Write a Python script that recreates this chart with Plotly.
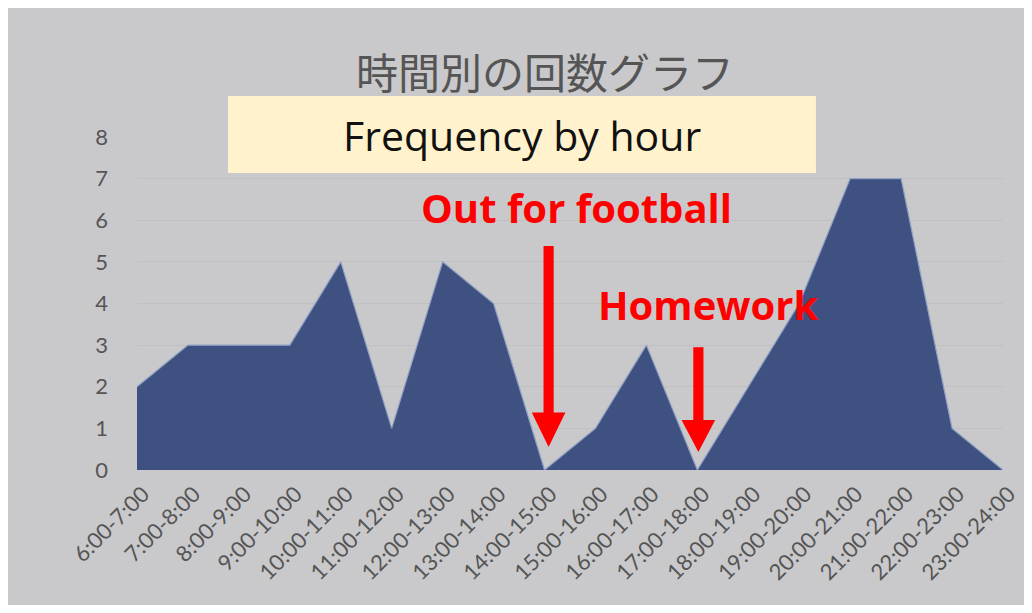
import plotly.graph_objects as go

categories = ["6:00-7:00", "7:00-8:00", "8:00-9:00", "9:00-10:00", "10:00-11:00",
              "11:00-12:00", "12:00-13:00", "13:00-14:00", "14:00-15:00", "15:00-16:00",
              "16:00-17:00", "17:00-18:00", "18:00-19:00", "19:00-20:00", "20:00-21:00",
              "21:00-22:00", "22:00-23:00", "23:00-24:00"]
counts = [2, 3, 3, 3, 5, 1, 5, 4, 0, 1, 3, 0, 2, 4, 7, 7, 1, 0]
y_ticks = [0, 1, 2, 3, 4, 5, 6, 7, 8]

title_ja = "時間別の回数グラフ"
title_en = "Frequency by hour"
notes = [("Out for football", "14:00-15:00"), ("Homework", "17:00-18:00")]

BG = "#c9c9cb"
AREA = "#3e5181"
RED = "#ff0000"

idx = list(range(len(categories)))
fig = go.Figure()
fig.add_trace(go.Scatter(
    x=idx, y=counts, mode="lines", fill="tozeroy",
    fillcolor=AREA, line=dict(color="#8fa0c4", width=1.2),
    hoverinfo="skip", showlegend=False,
))

shapes = [
    # cream box behind English title
    dict(type="rect", xref="paper", yref="paper", x0=0.105, x1=0.784, y0=0.892, y1=1.123,
         fillcolor="#fff2cc", line=dict(width=0), layer="above"),
]

# red arrows: shaft + triangular head, positioned at category index
arrow_specs = [(categories.index(notes[0][1]) + 0.08, 5.38, 1.38, 0.55),
               (categories.index(notes[1][1]) + 0.02, 2.95, 1.2, 0.43)]
for xc, top, head_top, tip in arrow_specs:
    shapes.append(dict(type="rect", xref="x", yref="y", x0=xc - 0.1, x1=xc + 0.1,
                       y0=head_top - 0.05, y1=top, fillcolor=RED, line=dict(width=0), layer="above"))
    shapes.append(dict(type="path", xref="x", yref="y",
                       path=f"M {xc-0.33} {head_top} L {xc+0.33} {head_top} L {xc} {tip} Z",
                       fillcolor=RED, line=dict(width=0), layer="above"))

annotations = [
    dict(text=title_ja, xref="paper", yref="paper", x=0.471, y=1.2, showarrow=False,
         font=dict(family="Noto Sans CJK JP", size=42, color="#555555"), xanchor="center", yanchor="middle"),
    dict(text=title_en, xref="paper", yref="paper", x=0.445, y=1.006, showarrow=False,
         font=dict(family="Open Sans", size=41, color="#111111"), xanchor="center", yanchor="middle"),
    dict(text="<b>" + notes[0][0] + "</b>", xref="x", yref="y", x=8.62, y=6.3, showarrow=False,
         font=dict(family="Open Sans", size=40, color=RED), xanchor="center", yanchor="middle"),
    dict(text="<b>" + notes[1][0] + "</b>", xref="x", yref="y", x=11.2, y=3.97, showarrow=False,
         font=dict(family="Open Sans", size=40, color=RED), xanchor="center", yanchor="middle"),
]

fig.update_layout(
    width=1016, height=597,
    margin=dict(l=129, r=21, t=129, b=135, autoexpand=False),
    paper_bgcolor=BG, plot_bgcolor=BG,
    shapes=shapes, annotations=annotations,
    xaxis=dict(range=[0, len(categories) - 1], tickmode="array", tickvals=idx, ticktext=categories,
               tickangle=-45, showgrid=False, zeroline=False, showline=False, ticks="",
               ticklabelstandoff=6, ticklabelshift=6, automargin=False,
               tickfont=dict(family="Lato", size=22, color="#555555")),
    yaxis=dict(range=[0, 8], tickvals=y_ticks, showgrid=True, gridcolor="#c0c0c3", gridwidth=1,
               zeroline=False, showline=False, ticks="", ticklabelstandoff=28, automargin=False,
               tickfont=dict(family="Lato", size=22, color="#555555")),
)

fig.write_html("out.html")
